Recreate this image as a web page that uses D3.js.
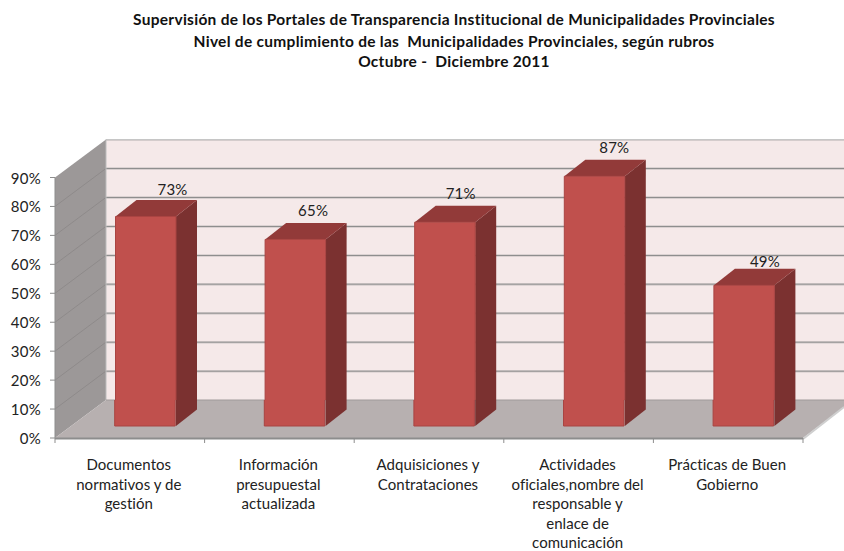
<!DOCTYPE html>
<html><head><meta charset="utf-8">
<script src="https://cdn.jsdelivr.net/npm/d3@7/dist/d3.min.js"></script>
<style>html,body{margin:0;padding:0;background:#fff}svg{display:block}</style>
</head><body><div id="chart"></div>
<script>
const categories = [
  ["Documentos","normativos y de","gestión"],
  ["Información","presupuestal","actualizada"],
  ["Adquisiciones y","Contrataciones"],
  ["Actividades","oficiales,nombre del","responsable y","enlace de","comunicación"],
  ["Prácticas de Buen","Gobierno"]
];
const values = [73,65,71,87,49];
const ticks = [0,10,20,30,40,50,60,70,80,90];
const titleLines = [
  "Supervisión de los Portales de Transparencia Institucional de Municipalidades Provinciales",
  "Nivel de cumplimiento de las  Municipalidades Provinciales, según rubros",
  "Octubre -  Diciembre 2011"
];

const W=844,H=551;
const svg=d3.select("#chart").append("svg").attr("width",W).attr("height",H);
const x=d3.scaleBand().domain(d3.range(5)).range([55,803]);
const y=d3.scaleLinear().domain([0,90]).range([438,177.5]);
const yBar=d3.scaleLinear().domain([0,100]).range([426,139]);
const dX=51,dY=-38, bX=21,bY=-16.5;
const poly=p=>p.map(d=>d.join(",")).join(" ");
const font="Lato, Carlito, 'Open Sans', sans-serif";

svg.append("g").selectAll("text").data(titleLines).join("text")
  .attr("x",454).attr("y",(d,i)=>[25,47,67][i]).attr("text-anchor","middle")
  .attr("font-family",font).attr("font-weight",700).attr("font-size",15.5).attr("letter-spacing",0.28).attr("fill","#111")
  .style("white-space","pre").text(d=>d);

// back wall, side wall, floor
svg.append("rect").attr("x",55+dX).attr("y",y(90)+dY).attr("width",W-55-dX).attr("height",y(0)-y(90)).attr("fill","#f5e9e9");
svg.append("polygon").attr("points",poly([[55,y(0)],[55,y(90)],[55+dX,y(90)+dY],[55+dX,y(0)+dY]])).attr("fill","#9c9898");
svg.append("polygon").attr("points",poly([[55,y(0)],[55+dX,y(0)+dY],[W,y(0)+dY],[W,407],[803,y(0)]])).attr("fill","#b7b0b0");
svg.append("line").attr("x1",803).attr("y1",y(0)+1).attr("x2",W).attr("y2",407).attr("stroke","#cfcfcf").attr("stroke-width",2);

// gridlines
const g=svg.append("g");
ticks.filter(t=>t>0).forEach(t=>{
  const yb=y(t)+dY;
  g.append("line").attr("x1",55+dX).attr("x2",W).attr("y1",yb+1).attr("y2",yb+1).attr("stroke","#d4cccc").attr("stroke-width",1);
  g.append("line").attr("x1",55+dX).attr("x2",W).attr("y1",yb).attr("y2",yb).attr("stroke",t===90?"#c6c6c6":"#8e8e8e").attr("stroke-width",1.2);
  if(t<90) g.append("line").attr("x1",55).attr("y1",y(t)).attr("x2",55+dX).attr("y2",yb).attr("stroke","#8a8686").attr("stroke-width",0.8);
});
g.append("line").attr("x1",55+dX).attr("x2",55+dX).attr("y1",y(90)+dY).attr("y2",y(0)+dY).attr("stroke","#bdbdbd").attr("stroke-width",1);
g.append("line").attr("x1",55+dX).attr("x2",W).attr("y1",y(0)+dY).attr("y2",y(0)+dY).attr("stroke","#a09a9a").attr("stroke-width",1);

// bars
const bars=svg.append("g").selectAll("g").data(values).join("g");
const bx=i=>x(i)+60.5, bw=60.5, yFloor=y(0)+dY;
bars.append("polygon").attr("points",(d,i)=>poly([[bx(i)+bw,yBar(0)],[bx(i)+bw,yBar(d)],[bx(i)+bw+bX,yBar(d)+bY],[bx(i)+bw+bX,yBar(0)+bY]])).attr("fill","#7b3130");
bars.append("polygon").attr("points",(d,i)=>poly([[bx(i),yBar(d)],[bx(i)+bX,yBar(d)+bY],[bx(i)+bw+bX,yBar(d)+bY],[bx(i)+bw,yBar(d)]])).attr("fill","#923a39");
bars.append("polyline").attr("points",(d,i)=>poly([[bx(i),yFloor],[bx(i),yBar(d)],[bx(i)+bw,yBar(d)],[bx(i)+bw,yFloor]])).attr("fill","#c0504d").attr("stroke","#a94442").attr("stroke-width",1);
bars.append("polyline").attr("points",(d,i)=>poly([[bx(i)-0.8,yFloor],[bx(i)-0.8,yBar(0)],[bx(i)+bw-0.8,yBar(0)],[bx(i)+bw-0.8,yFloor]])).attr("fill","#c0504d").attr("stroke","#a94442").attr("stroke-width",1);

// axes
const axis=svg.append("g");
axis.append("line").attr("x1",55).attr("x2",803).attr("y1",y(0)+0.5).attr("y2",y(0)+0.5).attr("stroke","#8d8d8d").attr("stroke-width",2);
axis.append("line").attr("x1",55).attr("x2",55).attr("y1",y(90)).attr("y2",y(0)).attr("stroke","#8d8d8d").attr("stroke-width",1);
axis.selectAll(".yt").data(ticks).join("line").attr("class","yt").attr("x1",50).attr("x2",55).attr("y1",d=>y(d)).attr("y2",d=>y(d)).attr("stroke","#8d8d8d");
axis.selectAll(".xt").data(d3.range(6)).join("line").attr("class","xt").attr("x1",d=>55+d*x.bandwidth()).attr("x2",d=>55+d*x.bandwidth()).attr("y1",438).attr("y2",443).attr("stroke","#8d8d8d");
axis.selectAll(".yl").data(ticks).join("text").attr("class","yl").attr("x",41).attr("y",d=>y(d)+6).attr("text-anchor","end")
  .attr("font-family",font).attr("font-size",15).attr("letter-spacing",0.3).attr("fill","#222").text(d=>d+"%");
const labelShift=[57,48,46,50,51], labelLift=[21.5,23,23,23,18];
svg.append("g").selectAll("text").data(values).join("text")
  .attr("x",(d,i)=>bx(i)+labelShift[i]).attr("y",(d,i)=>yBar(d)-labelLift[i]).attr("text-anchor","middle")
  .attr("font-family",font).attr("font-size",15).attr("letter-spacing",0.2).attr("fill","#222").text(d=>d+"%");
categories.forEach((lines,i)=>{
  svg.append("text").attr("text-anchor","middle").attr("font-family",font).attr("font-size",15).attr("letter-spacing",0.05).attr("fill","#222")
    .selectAll("tspan").data(lines).join("tspan").attr("x",x(i)+x.bandwidth()/2-1).attr("y",(d,j)=>470+j*19.5).text(d=>d);
});
</script></body></html>
